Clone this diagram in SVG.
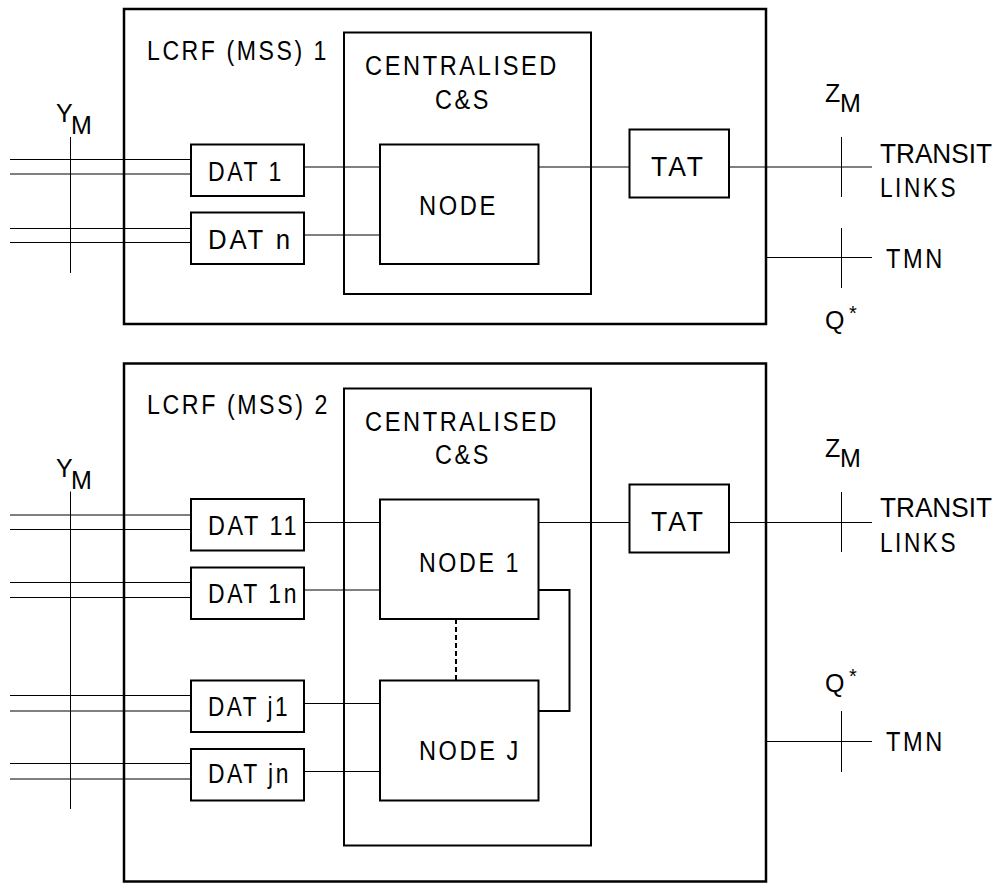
<svg xmlns="http://www.w3.org/2000/svg" width="1001" height="883" viewBox="0 0 1001 883">
<style>
  .outer { fill: none; stroke: #000; stroke-width: 2.5; }
  .box { fill: none; stroke: #000; stroke-width: 2; }
  .ln { fill: none; stroke: #000; stroke-width: 1; }
  .thick { fill: none; stroke: #000; stroke-width: 2; }
  .dash { fill: none; stroke: #000; stroke-width: 2; stroke-dasharray: 5 3; }
  text { font-family: "Liberation Sans", Arial, sans-serif; font-size: 27px; letter-spacing: 3px; fill: #000; }
  .sym { font-size: 25px; letter-spacing: 0; }
  .ast { font-size: 20px; letter-spacing: 0; }
  .tr { letter-spacing: 0; }
</style>
<rect width="1001" height="883" fill="#fff"/>

<g id="lcrf1">
  <rect class="outer" x="124" y="9" width="642" height="315"/>
  <text x="147" y="59.5" textLength="182" lengthAdjust="spacingAndGlyphs">LCRF (MSS) 1</text>
</g>
<g id="cs1">
  <rect class="box" x="344" y="32.5" width="247" height="261.5"/>
  <text x="365" y="75" textLength="194" lengthAdjust="spacingAndGlyphs">CENTRALISED</text>
  <text x="435" y="108.5" textLength="56" lengthAdjust="spacingAndGlyphs">C&amp;S</text>
</g>
<g id="node">
  <rect class="box" x="380" y="144.5" width="158.5" height="119.5"/>
  <text x="419" y="215" textLength="79" lengthAdjust="spacingAndGlyphs">NODE</text>
</g>
<g id="dat1">
  <rect class="box" x="191" y="144.5" width="113" height="51.5"/>
  <text x="208" y="180.5" textLength="76" lengthAdjust="spacingAndGlyphs">DAT 1</text>
</g>
<g id="datn">
  <rect class="box" x="191" y="212.5" width="113" height="51.5"/>
  <text x="208" y="248.5" textLength="85" lengthAdjust="spacingAndGlyphs">DAT n</text>
</g>
<g id="tat1">
  <rect class="box" x="629.5" y="129.5" width="99.5" height="68"/>
  <text x="651" y="176" textLength="55" lengthAdjust="spacingAndGlyphs">TAT</text>
</g>
<g id="ym1">
  <text class="sym" x="56" y="122">Y</text>
  <text class="sym" x="71" y="134">M</text>
</g>
<g id="zm1">
  <text class="sym" x="825" y="101.7">Z</text>
  <text class="sym" x="840" y="111.5">M</text>
</g>
<g id="transit1">
  <text class="tr" x="880" y="163.3" textLength="112" lengthAdjust="spacingAndGlyphs">TRANSIT</text>
  <text x="880" y="197.3" textLength="78" lengthAdjust="spacingAndGlyphs">LINKS</text>
</g>
<g id="tmn1">
  <text x="886" y="267.5" textLength="59" lengthAdjust="spacingAndGlyphs">TMN</text>
</g>
<g id="q1">
  <text class="sym" x="825" y="329">Q</text>
  <text class="ast" x="849" y="320">*</text>
</g>

<g id="lcrf2">
  <rect class="outer" x="124" y="363.5" width="642" height="518"/>
  <text x="147" y="413.5" textLength="183" lengthAdjust="spacingAndGlyphs">LCRF (MSS) 2</text>
</g>
<g id="cs2">
  <rect class="box" x="344" y="388.5" width="247" height="457"/>
  <text x="365" y="431" textLength="194" lengthAdjust="spacingAndGlyphs">CENTRALISED</text>
  <text x="435" y="464.3" textLength="56" lengthAdjust="spacingAndGlyphs">C&amp;S</text>
</g>
<g id="node1">
  <rect class="box" x="380" y="499.5" width="158.5" height="119.5"/>
  <text x="419" y="571.7" textLength="102" lengthAdjust="spacingAndGlyphs">NODE 1</text>
</g>
<g id="nodej">
  <rect class="box" x="380" y="680.5" width="158.5" height="120"/>
  <text x="419" y="760" textLength="102" lengthAdjust="spacingAndGlyphs">NODE J</text>
</g>
<g id="dat11">
  <rect class="box" x="191" y="499" width="113" height="51.5"/>
  <text x="208" y="535" textLength="91" lengthAdjust="spacingAndGlyphs">DAT 11</text>
</g>
<g id="dat1n">
  <rect class="box" x="191" y="567.5" width="113" height="51.5"/>
  <text x="208" y="603" textLength="91" lengthAdjust="spacingAndGlyphs">DAT 1n</text>
</g>
<g id="datj1">
  <rect class="box" x="191" y="680.5" width="113" height="51.5"/>
  <text x="208" y="716" textLength="82" lengthAdjust="spacingAndGlyphs">DAT j1</text>
</g>
<g id="datjn">
  <rect class="box" x="191" y="749" width="113" height="51.5"/>
  <text x="208" y="783" textLength="83" lengthAdjust="spacingAndGlyphs">DAT jn</text>
</g>
<g id="tat2">
  <rect class="box" x="629.5" y="484.5" width="99.5" height="68"/>
  <text x="651" y="531" textLength="55" lengthAdjust="spacingAndGlyphs">TAT</text>
</g>
<g id="ym2">
  <text class="sym" x="56" y="477">Y</text>
  <text class="sym" x="71" y="488.5">M</text>
</g>
<g id="zm2">
  <text class="sym" x="825" y="456.7">Z</text>
  <text class="sym" x="840" y="466.5">M</text>
</g>
<g id="transit2">
  <text class="tr" x="880" y="517" textLength="112" lengthAdjust="spacingAndGlyphs">TRANSIT</text>
  <text x="880" y="552" textLength="78" lengthAdjust="spacingAndGlyphs">LINKS</text>
</g>
<g id="tmn2">
  <text x="886" y="751" textLength="59" lengthAdjust="spacingAndGlyphs">TMN</text>
</g>
<g id="q2">
  <text class="sym" x="825" y="692">Q</text>
  <text class="ast" x="849" y="683">*</text>
</g>

<g id="connectors">
  <path class="ln" d="M10 159.5H191M10 174H191M10 228.5H191M10 242.5H191"/>
  <path class="ln" d="M70.5 137V273"/>
  <path class="ln" d="M304 167H380M304 235H380"/>
  <path class="ln" d="M538.5 167H629.5M729 167H872"/>
  <path class="ln" d="M841.5 137V197"/>
  <path class="ln" d="M766 257.5H872M841.5 228V288"/>
  <path class="ln" d="M10 515H191M10 529.5H191M10 582.5H191M10 597.5H191M10 695.5H191M10 711H191M10 763.5H191M10 779H191"/>
  <path class="ln" d="M70.5 491.5V809"/>
  <path class="ln" d="M304 522.5H380M304 590H380M304 703.5H380M304 771.5H380"/>
  <path class="ln" d="M538.5 522.5H629.5M729 522.5H872"/>
  <path class="ln" d="M841.5 492V552"/>
  <path class="thick" d="M538.5 590H569.5V711H538.5"/>
  <path class="dash" d="M456 619V680.5"/>
  <path class="ln" d="M766 741.5H872M841.5 711V772"/>
</g>
</svg>
